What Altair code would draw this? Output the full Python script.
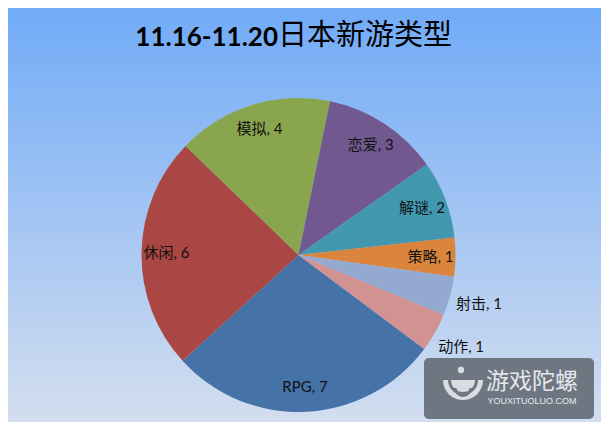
import math
import altair as alt
import pandas as pd

# ---- data ----
categories = ["RPG", "休闲", "模拟", "恋爱", "解谜", "策略", "射击", "动作"]
values = [7, 6, 4, 3, 2, 1, 1, 1]
colors = ["#4572A7", "#AA4643", "#89A54E", "#71588F", "#4198AF", "#DB843D", "#93A9CF", "#D19392"]
outside_labels = ["射击", "动作"]
title_num = "11.16-11.20"
title_cn = "日本新游类型"
wm_title = "游戏陀螺"
wm_sub = "YOUXITUOLUO.COM"

# ---- layout ----
TOTAL_W, TOTAL_H = 593, 414
PAD_L, PAD_T, PAD_R, PAD_B = 0, 80, 12, 0
PLOT_W = TOTAL_W - PAD_L - PAD_R
PLOT_H = TOTAL_H - PAD_T - PAD_B
R = 157
START = math.radians(126.8)
LABEL_FONT = "Lato, 'Noto Sans CJK SC', sans-serif"

df = pd.DataFrame({"category": categories, "value": values, "idx": list(range(len(categories)))})
df["label"] = df["category"] + ", " + df["value"].astype(str)
df["is_out"] = [c in outside_labels for c in categories]
df["label_in"] = [("" if o else l) for l, o in zip(df["label"], df["is_out"])]
df["label_out"] = [(l if o else "") for l, o in zip(df["label"], df["is_out"])]

theta = alt.Theta("value:Q", stack=True, scale=alt.Scale(range=[START, START + 2 * math.pi]))
order = alt.Order("idx:Q", sort="ascending")

one = pd.DataFrame({"k": [0]})

bg = alt.Chart(one).mark_rect(
    color=alt.LinearGradient(
        gradient="linear",
        stops=[alt.GradientStop(color="#71ABF7", offset=0),
               alt.GradientStop(color="#D3DEEF", offset=1)],
        x1=0, x2=0, y1=0, y2=1,
    )
).encode(x=alt.value(-PAD_L), x2=alt.value(TOTAL_W - PAD_L), y=alt.value(-PAD_T), y2=alt.value(TOTAL_H - PAD_T))

pie = alt.Chart(df).mark_arc(radius=R, stroke=None).encode(
    theta=theta,
    order=order,
    color=alt.Color("category:N", scale=alt.Scale(domain=categories, range=colors), legend=None),
)

labels_in = alt.Chart(df).mark_text(
    font=LABEL_FONT, fontSize=15, color="#111111", align="center", baseline="middle", radius=132
).encode(theta=theta, order=order, text="label_in:N")

labels_out = alt.Chart(df).mark_text(
    font=LABEL_FONT, fontSize=15, color="#111111", align="center", baseline="middle", radius=187
).encode(theta=theta, order=order, text="label_out:N")

t1 = alt.Chart(one).mark_text(
    text=title_num, font="Lato", fontWeight="bold", fontSize=26, color="#000000", align="right", baseline="middle"
).encode(x=alt.value(270), y=alt.value(30 - PAD_T))

t2 = alt.Chart(one).mark_text(
    text=title_cn, font="Noto Sans CJK SC", fontSize=29, color="#000000", align="left", baseline="middle"
).encode(x=alt.value(270), y=alt.value(28 - PAD_T))

# watermark
wm_box = alt.Chart(one).mark_rect(color="#6E7682", cornerRadius=5).encode(
    x=alt.value(416), x2=alt.value(586), y=alt.value(350 - PAD_T), y2=alt.value(411 - PAD_T)
)
wm_top = alt.Chart(one).mark_arc(theta=math.pi / 2, theta2=3 * math.pi / 2, radius=20, color="#D9DDE2").encode(
    x=alt.value(455), y=alt.value(372 - PAD_T)
)
wm_band1 = alt.Chart(one).mark_arc(theta=math.pi / 2, theta2=3 * math.pi / 2, radius=15, radius2=12, color="#6E7682").encode(
    x=alt.value(455), y=alt.value(372 - PAD_T)
)
wm_band2 = alt.Chart(one).mark_arc(theta=math.pi / 2, theta2=3 * math.pi / 2, radius=9, radius2=6.5, color="#6E7682").encode(
    x=alt.value(455), y=alt.value(380 - PAD_T)
)
wm_dot = alt.Chart(one).mark_point(shape="circle", size=40, filled=True, color="#D9DDE2", opacity=1).encode(
    x=alt.value(453), y=alt.value(362 - PAD_T)
)
wm_t1 = alt.Chart(one).mark_text(
    text=wm_title, font="Noto Sans CJK SC", fontSize=23, color="#E6E8EC", align="center", baseline="middle"
).encode(x=alt.value(524), y=alt.value(374 - PAD_T))
wm_t2 = alt.Chart(one).mark_text(
    text=wm_sub, font="Liberation Sans", fontSize=9, color="#E6E8EC", align="center", baseline="middle"
).encode(x=alt.value(524), y=alt.value(393 - PAD_T))

chart = alt.layer(
    bg, pie, labels_in, labels_out, t1, t2, wm_box, wm_top, wm_band1, wm_band2, wm_dot, wm_t1, wm_t2
).properties(
    width=PLOT_W,
    height=PLOT_H,
    padding={"left": PAD_L, "top": PAD_T, "right": PAD_R, "bottom": PAD_B},
    autosize=alt.AutoSizeParams(type="none"),
).configure_view(stroke=None)

chart.save("out.html", embed_options={"renderer": "svg", "actions": False})
